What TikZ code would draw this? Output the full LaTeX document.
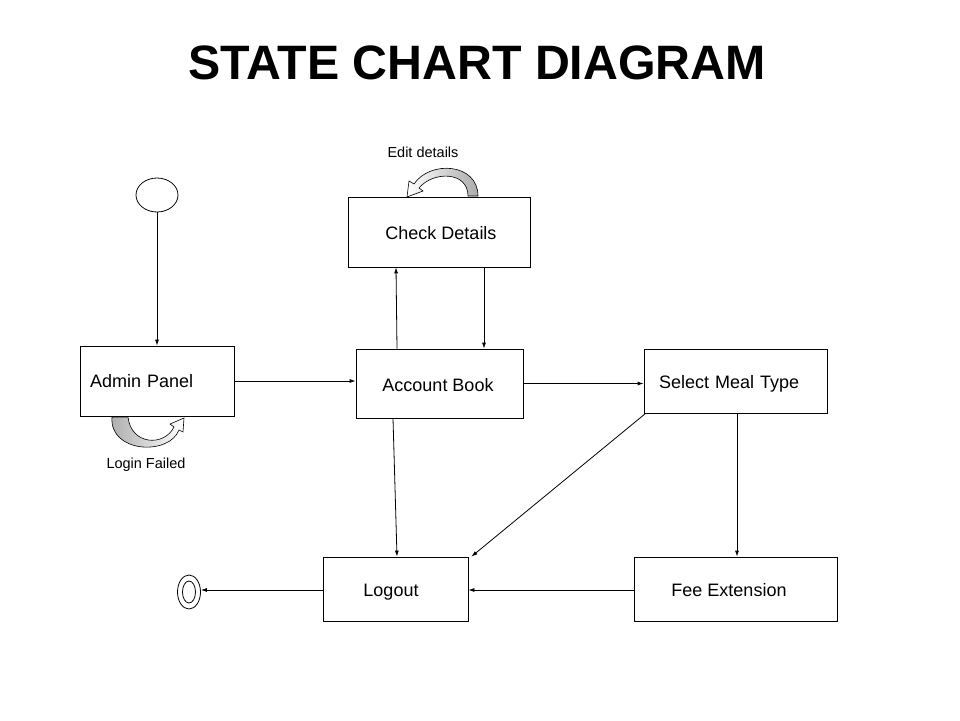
\documentclass[tikz,border=0pt]{standalone}
\usepackage{fontspec}
\setmainfont{Liberation Sans}
\usetikzlibrary{arrows.meta,shapes.geometric}
\begin{document}
\begin{tikzpicture}[x=1pt,y=-1pt,
  lw/.style={line width=0.8pt},
  stbox/.style={draw,lw,inner sep=0pt,font=\fontsize{18}{20}\selectfont,text height=15pt,text depth=0pt},
  arr/.style={lw,-{Latex[length=6pt,width=4pt]}},
  lbl/.style={font=\fontsize{14.5}{16}\selectfont,inner sep=0pt},
  crescent/.style={draw,line width=0.6pt}]
\useasboundingbox (0,0) rectangle (960,720);
\node[font=\bfseries\fontsize{48.3}{52}\selectfont,inner sep=0pt] (title) at (477,63) {STATE CHART DIAGRAM};
% states
\node[draw,lw,ellipse,minimum width=42pt,minimum height=34pt,inner sep=0pt] (init) at (157,195) {};
\node[stbox,text height=13pt,minimum width=154pt,minimum height=70pt,text width=134pt,align=left,inner xsep=10pt] (ap) at (157,381) {Admin Panel};
\node[stbox,minimum width=182pt,minimum height=70pt] (cd) at (439,232) {\hspace*{4pt}Check Details};
\node[stbox,text height=16pt,minimum width=167pt,minimum height=69pt] (ab) at (439.5,383.5) {Account Book\hspace*{3pt}};
\node[stbox,minimum width=183pt,minimum height=64pt,text width=153pt,align=left,inner xsep=15pt] (smt) at (735.5,381) {Select Meal Type};
\node[stbox,minimum width=145pt,minimum height=64pt] (lo) at (395.5,589) {Logout\hspace*{9pt}};
\node[stbox,minimum width=203pt,minimum height=64pt] (fe) at (735.5,589) {Fee Extension\hspace*{13pt}};
\node[draw,lw,ellipse,minimum width=23pt,minimum height=34pt,inner sep=0pt] (fin) at (189,592) {};
\node[draw,lw,ellipse,minimum width=13pt,minimum height=22pt,inner sep=0pt] (finin) at (189,592) {};
% helper x positions
\coordinate (x397) at (397,0);
\coordinate (x396) at (396,0);
\coordinate (x484) at (484,0);
\coordinate (x393) at (393,0);
\coordinate (x737) at (737,0);
\coordinate (y590) at (0,590);
% transitions
\draw[arr] (init) -- (ap.north -| init);
\draw[arr] (ap.east) -- (ab.west |- ap.east);
\draw[arr] (ab.north -| x397) -- (cd.south -| x396);
\draw[arr] (cd.south -| x484) -- (ab.north -| x484);
\draw[arr] (ab.east) -- (smt.west |- ab.east);
\draw[arr] (ab.south -| x393) -- (lo.north -| x397);
\draw[arr] ([xshift=2pt]smt.south west) -- ([xshift=3pt]lo.north east);
\draw[arr] (smt.south -| x737) -- (fe.north -| x737);
\draw[arr] (fe.west |- y590) -- (lo.east |- y590);
\draw[arr] (lo.west |- y590) -- (fin.east |- y590);
% self transitions
\path[crescent,left color=white,right color=gray!65]
  (478,196) .. controls (478,163) and (430,160) .. (414,184)
  -- (409,181) -- (407,197) -- (423,191) -- (419,188)
  .. controls (433,171) and (468,171) .. (468,196) -- cycle;
\node[lbl] (ed) at (423,152) {Edit details};
\path[crescent,left color=gray!65,right color=white]
  (112,417) .. controls (109,453) and (169,456) .. (179,430)
  -- (183,432) -- (184,418) -- (170,424) -- (174,427)
  .. controls (164,447) and (131,445) .. (128,417) -- cycle;
\node[lbl] (lf) at (146,465) {Login Failed};
\end{tikzpicture}
\end{document}
